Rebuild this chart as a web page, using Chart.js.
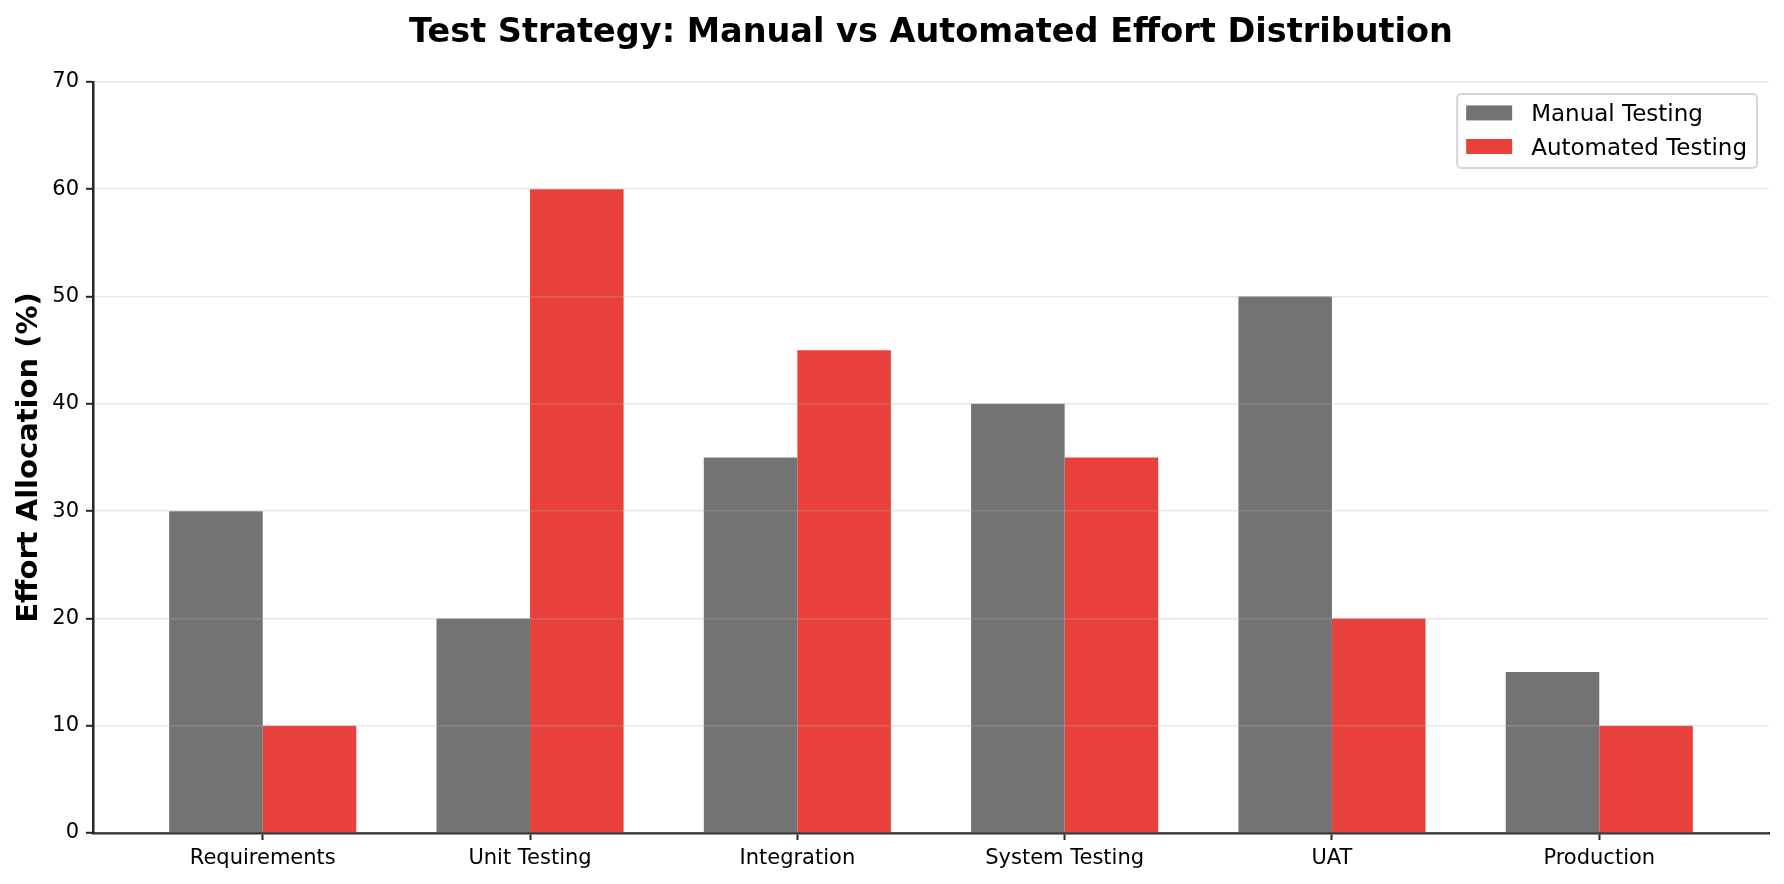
<!DOCTYPE html>
<html><head><meta charset="utf-8">
<script src="https://cdn.jsdelivr.net/npm/chart.js@4.4.0/dist/chart.umd.min.js"></script>
<style>html,body{margin:0;padding:0;background:#fff;}canvas{display:block;}</style>
</head><body>
<canvas id="c" width="1784" height="884"></canvas>
<script>
const categories = ['Requirements','Unit Testing','Integration','System Testing','UAT','Production'];
const manualValues = [30,20,35,40,50,15];
const automatedValues = [10,60,45,35,20,10];
const yTicks = [0,10,20,30,40,50,60,70];
const seriesNames = ['Manual Testing','Automated Testing'];
const seriesColors = ['#737373','#e8413c'];
const chartTitle = 'Test Strategy: Manual vs Automated Effort Distribution';
const yTitle = 'Effort Allocation (%)';

const FONT = 'DejaVu Sans';
const AXIS = '#262626';

const toPoints = vals => vals.map((v, i) => ({x: i, y: v}));

const axesTitle = {
  id: 'axesTitle',
  afterDraw(chart) {
    const ctx = chart.ctx;
    const area = chart.chartArea;
    ctx.save();
    ctx.font = 'bold 33.5px "' + FONT + '"';
    ctx.fillStyle = '#000';
    ctx.textAlign = 'center';
    ctx.textBaseline = 'alphabetic';
    ctx.fillText(chartTitle, (area.left + area.right) / 2, 41.5);
    ctx.restore();
  }
};

const boxLegend = {
  id: 'boxLegend',
  afterDraw(chart) {
    const ctx = chart.ctx;
    const area = chart.chartArea;
    const fontSize = 23;
    ctx.save();
    ctx.font = fontSize + 'px "' + FONT + '"';
    const items = chart.data.datasets.map(d => ({label: d.label, color: d.backgroundColor}));
    let textW = 0;
    items.forEach(it => { textW = Math.max(textW, ctx.measureText(it.label).width); });
    const padL = 9, patchW = 46, gap = 19, padR = 10;
    const w = padL + patchW + gap + textW + padR;
    const h = 74;
    const right = area.right - 12;
    const top = area.top + 12;
    const left = right - w;
    const r = 4;
    ctx.beginPath();
    ctx.moveTo(left + r, top);
    ctx.lineTo(left + w - r, top);
    ctx.arcTo(left + w, top, left + w, top + r, r);
    ctx.lineTo(left + w, top + h - r);
    ctx.arcTo(left + w, top + h, left + w - r, top + h, r);
    ctx.lineTo(left + r, top + h);
    ctx.arcTo(left, top + h, left, top + h - r, r);
    ctx.lineTo(left, top + r);
    ctx.arcTo(left, top, left + r, top, r);
    ctx.closePath();
    ctx.fillStyle = 'rgba(255,255,255,0.8)';
    ctx.fill();
    ctx.strokeStyle = 'rgba(204,204,204,0.8)';
    ctx.lineWidth = 2;
    ctx.stroke();
    items.forEach((it, i) => {
      const cy = top + 18.9 + i * 33.6;
      ctx.fillStyle = it.color;
      ctx.fillRect(left + padL, cy - 7.5, patchW, 15);
      ctx.fillStyle = '#000';
      ctx.textBaseline = 'alphabetic';
      ctx.textAlign = 'left';
      ctx.fillText(it.label, left + padL + patchW + gap, cy + 8);
    });
    ctx.restore();
  }
};

new Chart(document.getElementById('c').getContext('2d'), {
  type: 'bar',
  data: {
    datasets: [
      {label: seriesNames[0], data: toPoints(manualValues), backgroundColor: seriesColors[0], borderWidth: 0, categoryPercentage: 0.7, barPercentage: 1.0},
      {label: seriesNames[1], data: toPoints(automatedValues), backgroundColor: seriesColors[1], borderWidth: 0, categoryPercentage: 0.7, barPercentage: 1.0}
    ]
  },
  options: {
    responsive: false,
    animation: false,
    devicePixelRatio: 1,
    layout: {padding: {left: 0, right: 15, top: 82, bottom: 0}},
    plugins: {
      legend: {display: false},
      tooltip: {enabled: false},
      title: {display: false}
    },
    scales: {
      x: {
        type: 'linear', min: -0.635, max: 5.635, offset: false,
        afterBuildTicks: s => { s.ticks = categories.map((c, i) => ({value: i})); },
        ticks: {callback: v => categories[v], font: {family: FONT, size: 21}, color: '#000', padding: 6, maxRotation: 0, autoSkip: false},
        grid: {display: true, offset: false, drawOnChartArea: false, drawTicks: true, tickLength: 7, tickWidth: 2, tickColor: AXIS},
        border: {display: true, color: AXIS, width: 2.5, z: 1},
        afterFit: s => { s.height = 51; }
      },
      y: {
        min: 0, max: 70,
        afterBuildTicks: s => { s.ticks = yTicks.map(v => ({value: v})); },
        ticks: {font: {family: FONT, size: 21}, color: '#000', padding: 7},
        grid: {color: 'rgba(176,176,176,0.3)', lineWidth: 1.6, drawTicks: true, tickLength: 7, tickWidth: 2, tickColor: AXIS, z: 1},
        border: {display: true, color: AXIS, width: 2.5, z: 1},
        title: {display: true, text: yTitle, color: '#000', font: {family: FONT, size: 29, weight: 'bold', lineHeight: 1.2}, padding: {top: 12, bottom: 0}},
        afterFit: s => { s.width = 93; }
      }
    }
  },
  plugins: [axesTitle, boxLegend]
});
</script>
</body></html>
